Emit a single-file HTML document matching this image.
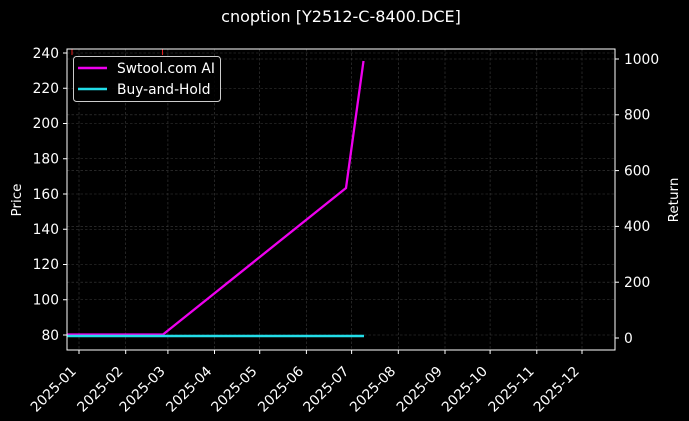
<!DOCTYPE html>
<html><head><meta charset="utf-8"><style>
html,body{margin:0;padding:0;background:#000;}
svg{display:block;font-family:"DejaVu Sans","Liberation Sans",sans-serif;}
</style></head><body>
<svg width="689" height="421" viewBox="0 0 689 421" xmlns="http://www.w3.org/2000/svg">
<rect width="689" height="421" fill="#000"/>
<text x="341" y="22" fill="#fff" font-size="16" text-anchor="middle">cnoption [Y2512-C-8400.DCE]</text>
<g stroke="#3c3c3c" stroke-width="0.6" stroke-dasharray="2.5,2">
<line x1="67" x2="615" y1="53" y2="53"/><line x1="67" x2="615" y1="88.25" y2="88.25"/>
<line x1="67" x2="615" y1="123.5" y2="123.5"/><line x1="67" x2="615" y1="158.75" y2="158.75"/>
<line x1="67" x2="615" y1="194" y2="194"/><line x1="67" x2="615" y1="229.25" y2="229.25"/>
<line x1="67" x2="615" y1="264.5" y2="264.5"/><line x1="67" x2="615" y1="299.75" y2="299.75"/>
<line x1="67" x2="615" y1="335" y2="335"/>
<line x1="67" x2="615" y1="59" y2="59"/><line x1="67" x2="615" y1="114.8" y2="114.8"/>
<line x1="67" x2="615" y1="170.6" y2="170.6"/><line x1="67" x2="615" y1="226.4" y2="226.4"/>
<line x1="67" x2="615" y1="282.2" y2="282.2"/>
<line y1="49" y2="350" x1="79" x2="79"/><line y1="49" y2="350" x1="125.7" x2="125.7"/>
<line y1="49" y2="350" x1="167.9" x2="167.9"/><line y1="49" y2="350" x1="214.5" x2="214.5"/>
<line y1="49" y2="350" x1="259.7" x2="259.7"/><line y1="49" y2="350" x1="306.4" x2="306.4"/>
<line y1="49" y2="350" x1="351.6" x2="351.6"/><line y1="49" y2="350" x1="398.3" x2="398.3"/>
<line y1="49" y2="350" x1="445" x2="445"/><line y1="49" y2="350" x1="490.1" x2="490.1"/>
<line y1="49" y2="350" x1="536.8" x2="536.8"/><line y1="49" y2="350" x1="582" x2="582"/>
</g>
<g stroke="#e02020" stroke-width="1"><line x1="72" x2="72" y1="49" y2="55"/><line x1="162.5" x2="162.5" y1="49" y2="55"/></g>
<polyline points="67,334.5 163,334.5 346,188 363.5,61" fill="none" stroke="#ee00ee" stroke-width="2.3"/>
<line x1="67" x2="364" y1="336" y2="336" stroke="#22dde8" stroke-width="2.5"/>
<rect x="67" y="49" width="548" height="301" fill="none" stroke="#fff" stroke-width="1"/>
<g stroke="#fff" stroke-width="1">
<line x1="63" x2="67" y1="53" y2="53"/><line x1="63" x2="67" y1="88.25" y2="88.25"/><line x1="63" x2="67" y1="123.5" y2="123.5"/><line x1="63" x2="67" y1="158.75" y2="158.75"/><line x1="63" x2="67" y1="194" y2="194"/><line x1="63" x2="67" y1="229.25" y2="229.25"/><line x1="63" x2="67" y1="264.5" y2="264.5"/><line x1="63" x2="67" y1="299.75" y2="299.75"/><line x1="63" x2="67" y1="335" y2="335"/>
<line x1="615" x2="619" y1="59" y2="59"/><line x1="615" x2="619" y1="114.8" y2="114.8"/><line x1="615" x2="619" y1="170.6" y2="170.6"/><line x1="615" x2="619" y1="226.4" y2="226.4"/><line x1="615" x2="619" y1="282.2" y2="282.2"/><line x1="615" x2="619" y1="338" y2="338"/>
<line y1="350" y2="354" x1="79" x2="79"/><line y1="350" y2="354" x1="125.7" x2="125.7"/><line y1="350" y2="354" x1="167.9" x2="167.9"/><line y1="350" y2="354" x1="214.5" x2="214.5"/><line y1="350" y2="354" x1="259.7" x2="259.7"/><line y1="350" y2="354" x1="306.4" x2="306.4"/><line y1="350" y2="354" x1="351.6" x2="351.6"/><line y1="350" y2="354" x1="398.3" x2="398.3"/><line y1="350" y2="354" x1="445" x2="445"/><line y1="350" y2="354" x1="490.1" x2="490.1"/><line y1="350" y2="354" x1="536.8" x2="536.8"/><line y1="350" y2="354" x1="582" x2="582"/>
</g>
<g fill="#fff" font-size="13.8" text-anchor="end">
<text x="59" y="58">240</text><text x="59" y="93">220</text><text x="59" y="128">200</text><text x="59" y="163.5">180</text><text x="59" y="199">160</text><text x="59" y="234">140</text><text x="59" y="269">120</text><text x="59" y="304.5">100</text><text x="59" y="340">80</text>
</g>
<g fill="#fff" font-size="13.8">
<text x="624" y="64">1000</text><text x="624" y="119.5">800</text><text x="624" y="175.5">600</text><text x="624" y="231">400</text><text x="624" y="287">200</text><text x="624" y="343">0</text>
</g>
<text transform="translate(21,200) rotate(-90)" fill="#fff" font-size="13.5" text-anchor="middle">Price</text>
<text transform="translate(678,200) rotate(-90)" fill="#fff" font-size="13.5" text-anchor="middle">Return</text>
<g fill="#fff" font-size="13.8" text-anchor="end">
<text transform="translate(77,372) rotate(-45)">2025-01</text>
<text transform="translate(123.7,372) rotate(-45)">2025-02</text>
<text transform="translate(165.9,372) rotate(-45)">2025-03</text>
<text transform="translate(212.5,372) rotate(-45)">2025-04</text>
<text transform="translate(257.7,372) rotate(-45)">2025-05</text>
<text transform="translate(304.4,372) rotate(-45)">2025-06</text>
<text transform="translate(349.6,372) rotate(-45)">2025-07</text>
<text transform="translate(396.3,372) rotate(-45)">2025-08</text>
<text transform="translate(443,372) rotate(-45)">2025-09</text>
<text transform="translate(488.1,372) rotate(-45)">2025-10</text>
<text transform="translate(534.8,372) rotate(-45)">2025-11</text>
<text transform="translate(580,372) rotate(-45)">2025-12</text>
</g>
<rect x="73.5" y="56.5" width="147" height="45" rx="3" fill="#000" fill-opacity="0.85" stroke="#ccc" stroke-width="1"/>
<line x1="78" x2="107" y1="68" y2="68" stroke="#ee00ee" stroke-width="2.5"/>
<line x1="78" x2="107" y1="89" y2="89" stroke="#22dde8" stroke-width="2.5"/>
<g fill="#fff" font-size="13.8"><text x="117" y="73">Swtool.com AI</text><text x="117" y="94">Buy-and-Hold</text></g>
</svg>
</body></html>
